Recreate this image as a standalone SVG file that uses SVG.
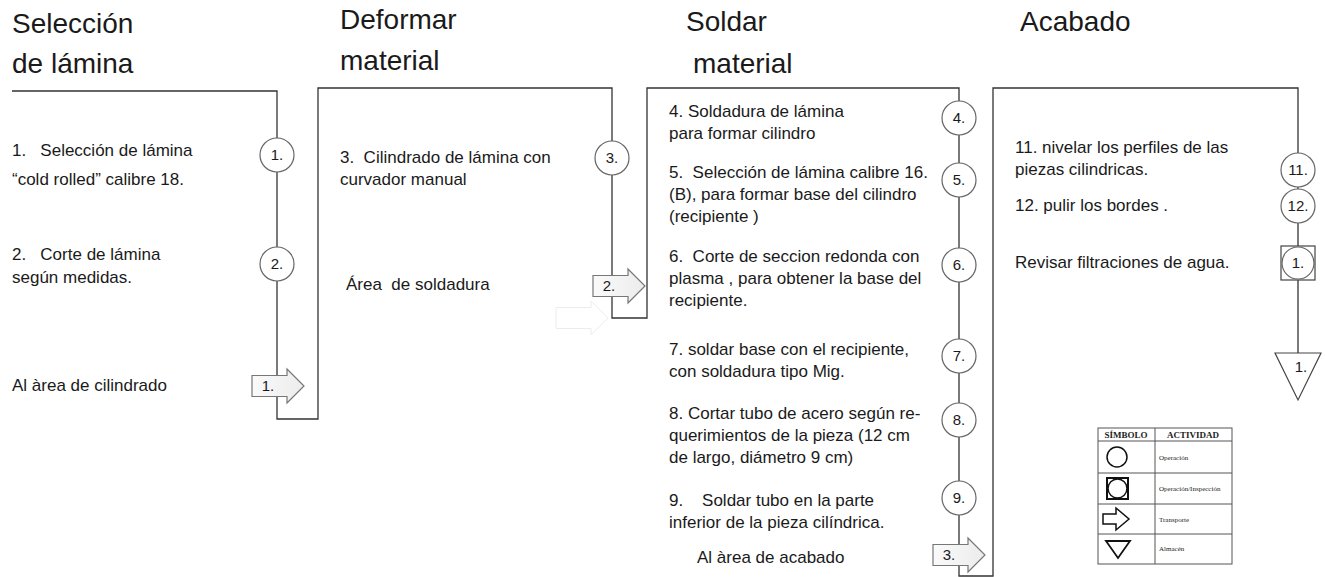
<svg xmlns="http://www.w3.org/2000/svg" width="1325" height="577" viewBox="0 0 1325 577">
<defs>
<style>
.t{font-family:"Liberation Sans",Arial,sans-serif;font-size:17px;fill:#1a1a1a}
.h{font-family:"Liberation Sans",Arial,sans-serif;font-size:28px;fill:#1a1a1a}
.n{font-family:"Liberation Sans",Arial,sans-serif;font-size:15px;fill:#1a1a1a;text-anchor:middle}
.ln{fill:none;stroke:#333;stroke-width:1.3}
.op{fill:#fff;stroke:#666;stroke-width:1.2}
.ar{fill:url(#g);stroke:#777;stroke-width:1.2}
.lg{font-family:"Liberation Serif","Times New Roman",serif;fill:#222}
</style>
<linearGradient id="g" x1="0" y1="0" x2="1" y2="0"><stop offset="0" stop-color="#fafafa"/><stop offset="1" stop-color="#ececec"/></linearGradient>
<path id="arrow" d="M0,-10.5 H35 V-17 L52,0 L35,17 V10.5 H0 Z"/>
</defs>
<rect width="1325" height="577" fill="#fff"/>

<g id="titles">
<text class="h" x="12" y="33">Selección</text>
<text class="h" x="12" y="73">de lámina</text>
<text class="h" x="340" y="29">Deformar</text>
<text class="h" x="340" y="70">material</text>
<text class="h" x="686" y="31">Soldar</text>
<text class="h" x="693" y="73">material</text>
<text class="h" x="1020" y="31">Acabado</text>
</g>

<g id="connectors">
<polyline class="ln" points="12,91 277,91 277,419 318,419 318,88 612,88 612,318 647,318 647,88 959,88 959,576 993,576 993,88 1298,88 1298,353"/>
</g>

<g id="col1">
<text class="t" x="12" y="156" xml:space="preserve">1.   Selección de lámina</text>
<text class="t" x="12" y="185">“cold rolled” calibre 18.</text>
<text class="t" x="12" y="260" xml:space="preserve">2.   Corte de lámina</text>
<text class="t" x="12" y="283">según medidas.</text>
<text class="t" x="12" y="391">Al àrea de cilindrado</text>
<g id="op1"><circle class="op" cx="277" cy="155" r="17"/><text class="n" x="277" y="160">1.</text></g>
<g id="op2"><circle class="op" cx="277" cy="264" r="17"/><text class="n" x="277" y="269">2.</text></g>
<g id="tr1"><use href="#arrow" class="ar" x="252" y="386"/><text class="n" x="268" y="391">1.</text></g>
</g>

<g id="col2">
<text class="t" x="340" y="163" xml:space="preserve">3.  Cilindrado de lámina con</text>
<text class="t" x="340" y="185">curvador manual</text>
<text class="t" x="346" y="290" xml:space="preserve">Área  de soldadura</text>
<g id="op3"><circle class="op" cx="612" cy="158" r="17"/><text class="n" x="612" y="163">3.</text></g>
<g id="tr2"><use href="#arrow" class="ar" x="593" y="286"/><text class="n" x="609" y="291">2.</text></g>
<g id="ghost"><use href="#arrow" x="556" y="318" fill="none" stroke="#ececec" stroke-width="1"/></g>
</g>

<g id="col3">
<text class="t" x="669" y="117">4. Soldadura de lámina</text>
<text class="t" x="669" y="139">para formar cilindro</text>
<text class="t" x="669" y="178" xml:space="preserve">5.  Selección de lámina calibre 16.</text>
<text class="t" x="669" y="200">(B), para formar base del cilindro</text>
<text class="t" x="669" y="222">(recipiente )</text>
<text class="t" x="669" y="262" xml:space="preserve">6.  Corte de seccion redonda con</text>
<text class="t" x="669" y="284">plasma , para obtener la base del</text>
<text class="t" x="669" y="306">recipiente.</text>
<text class="t" x="669" y="355">7. soldar base con el recipiente,</text>
<text class="t" x="669" y="377">con soldadura tipo Mig.</text>
<text class="t" x="669" y="419">8. Cortar tubo de acero según re-</text>
<text class="t" x="669" y="441">querimientos de la pieza (12 cm</text>
<text class="t" x="669" y="463">de largo, diámetro 9 cm)</text>
<text class="t" x="669" y="506" xml:space="preserve">9.    Soldar tubo en la parte</text>
<text class="t" x="669" y="528">inferior de la pieza cilíndrica.</text>
<text class="t" x="697" y="563">Al àrea de acabado</text>
<g id="op4"><circle class="op" cx="959" cy="118" r="17"/><text class="n" x="959" y="123">4.</text></g>
<g id="op5"><circle class="op" cx="959" cy="180" r="17"/><text class="n" x="959" y="185">5.</text></g>
<g id="op6"><circle class="op" cx="959" cy="265" r="17"/><text class="n" x="959" y="270">6.</text></g>
<g id="op7"><circle class="op" cx="959" cy="356" r="17"/><text class="n" x="959" y="361">7.</text></g>
<g id="op8"><circle class="op" cx="959" cy="420" r="17"/><text class="n" x="959" y="425">8.</text></g>
<g id="op9"><circle class="op" cx="959" cy="498" r="17"/><text class="n" x="959" y="503">9.</text></g>
<g id="tr3"><use href="#arrow" class="ar" x="933" y="555"/><text class="n" x="949" y="560">3.</text></g>
</g>

<g id="col4">
<text class="t" x="1015" y="153">11. nivelar los perfiles de las</text>
<text class="t" x="1015" y="175">piezas cilindricas.</text>
<text class="t" x="1015" y="211">12. pulir los bordes .</text>
<text class="t" x="1015" y="268">Revisar filtraciones de agua.</text>
<g id="op11"><circle class="op" cx="1298" cy="170" r="17"/><text class="n" x="1298" y="175">11.</text></g>
<g id="op12"><circle class="op" cx="1298" cy="206" r="17"/><text class="n" x="1298" y="211">12.</text></g>
<g id="insp1"><rect x="1281" y="246" width="34" height="34" fill="#fff" stroke="#444" stroke-width="1.2"/><circle class="op" cx="1298" cy="263" r="16"/><text class="n" x="1298" y="268">1.</text></g>
<g id="st1"><polygon points="1275,353 1321,353 1298,400" fill="#fff" stroke="#444" stroke-width="1.2"/><text class="n" x="1301" y="372">1.</text></g>
</g>

<g id="legend">
<rect x="1098" y="428" width="134" height="136" fill="#fff" stroke="#555" stroke-width="1"/>
<g stroke="#555" stroke-width="1">
<line x1="1098" y1="441" x2="1232" y2="441"/>
<line x1="1098" y1="473" x2="1232" y2="473"/>
<line x1="1098" y1="504" x2="1232" y2="504"/>
<line x1="1098" y1="534" x2="1232" y2="534"/>
<line x1="1155" y1="428" x2="1155" y2="564"/>
</g>
<text class="lg" x="1126" y="438" font-size="9" font-weight="bold" text-anchor="middle">SÍMBOLO</text>
<text class="lg" x="1193" y="438" font-size="9" font-weight="bold" text-anchor="middle">ACTIVIDAD</text>
<circle cx="1117" cy="457" r="10" fill="none" stroke="#111" stroke-width="1.5"/>
<rect x="1107" y="478" width="21" height="21" fill="none" stroke="#111" stroke-width="2"/>
<circle cx="1117.5" cy="488.5" r="9.5" fill="none" stroke="#111" stroke-width="1.5"/>
<path d="M1103,514 H1116 V508 L1129,519 L1116,530 V524 H1103 Z" fill="none" stroke="#111" stroke-width="1.5"/>
<polygon points="1106,541 1130,541 1118,558" fill="none" stroke="#111" stroke-width="1.8"/>
<text class="lg" x="1159" y="460" font-size="7">Operación</text>
<text class="lg" x="1159" y="491" font-size="7">Operación/Inspección</text>
<text class="lg" x="1159" y="522" font-size="7">Transporte</text>
<text class="lg" x="1159" y="551" font-size="7">Almacén</text>
</g>
</svg>
